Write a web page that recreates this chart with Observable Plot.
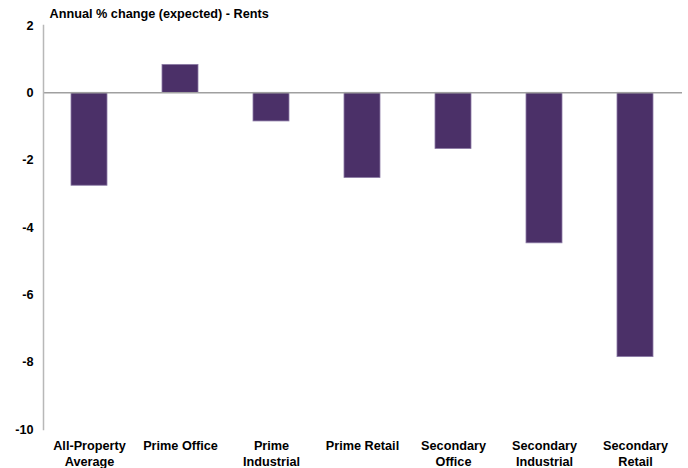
<!DOCTYPE html>
<html>
<head>
<meta charset="utf-8">
<script src="https://cdn.jsdelivr.net/npm/d3@7"></script>
<script src="https://cdn.jsdelivr.net/npm/@observablehq/plot@0.6"></script>
<style>
  html, body { margin: 0; padding: 0; background: #fff; }
  svg { display: block; }
</style>
</head>
<body>
<div id="chart"></div>
<script>
const title = "Annual % change (expected) - Rents";
const categories = ["All-Property Average", "Prime Office", "Prime Industrial", "Prime Retail", "Secondary Office", "Secondary Industrial", "Secondary Retail"];
const tickLabels = ["All-Property\nAverage", "Prime Office", "Prime\nIndustrial", "Prime Retail", "Secondary\nOffice", "Secondary\nIndustrial", "Secondary\nRetail"];
const values = [-2.76, 0.83, -0.85, -2.53, -1.67, -4.47, -7.85];
const yTicks = [-10, -8, -6, -4, -2, 0, 2];

const data = categories.map((c, i) => ({category: c, value: values[i]}));
const labelOf = new Map(categories.map((c, i) => [c, tickLabels[i]]));

const chart = Plot.plot({
  width: 688,
  height: 468,
  marginTop: 25,
  marginBottom: 39,
  marginLeft: 43,
  marginRight: 6,
  style: {fontFamily: "'Liberation Sans', Arial, sans-serif", fontSize: "12.7px", fontWeight: "bold", color: "#000"},
  x: {domain: categories, paddingInner: 0.6, paddingOuter: 0.3, label: null},
  y: {domain: [-10, 2], label: null},
  marks: [
    Plot.barY(data, {x: "category", y: "value", fill: "#4B3068", stroke: "#8C7BA6", strokeWidth: 0.8}),
    Plot.ruleY([0], {stroke: "#A0A0A0", strokeWidth: 1.5}),
    Plot.frame({anchor: "left", stroke: "#B8B8B8", strokeWidth: 1.5}),
    Plot.axisY({ticks: yTicks, tickSize: 0, tickPadding: 10, label: null, tickFormat: (d) => String(d), fontSize: 12.7, fontWeight: "bold", fill: "#000"}),
    Plot.axisX({tickSize: 0, tickPadding: 10, label: null, tickFormat: (d) => labelOf.get(d), lineHeight: 1.2, fontSize: 12.7, fontWeight: "bold", fill: "#000"}),
    Plot.text([title], {frameAnchor: "top-left", dx: 6, dy: -17, textAnchor: "start", fontSize: 12.7, fontWeight: "bold", fill: "#000"})
  ]
});
document.getElementById("chart").appendChild(chart);
</script>
</body>
</html>
